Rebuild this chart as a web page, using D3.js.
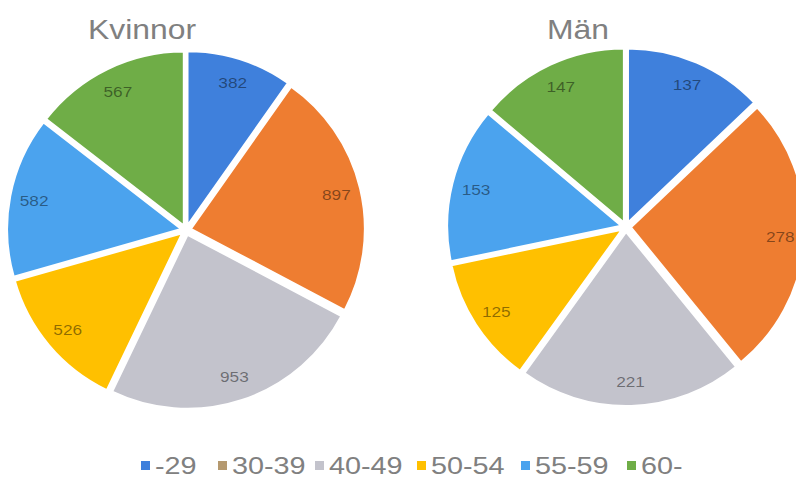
<!DOCTYPE html>
<html><head><meta charset="utf-8">
<script src="https://cdn.jsdelivr.net/npm/d3@7"></script>
<style>body{margin:0;background:#fff}svg{display:block}</style>
</head><body>
<svg id="c" width="796" height="484"></svg>
<script>
const categories = ["-29","30-39","40-49","50-54","55-59","60-"];
const kvinnor = [382, 897, 953, 526, 582, 567];
const man = [137, 278, 221, 125, 153, 147];
const titles = ["Kvinnor","Män"];
const sliceColors = ["#3f80dc","#ee7d31","#c3c3cc","#ffc000","#4ba3ee","#6fad47"];
const legendColors = ["#3f80dc","#b5996f","#c3c3cc","#ffc000","#4ba3ee","#6fad47"];

const svg = d3.select("#c");
const FONT = "Liberation Sans, Arial, sans-serif";
const pies = [
  {title: titles[0], values: kvinnor, cx: 186, cy: 230, tx: 142},
  {title: titles[1], values: man, cx: 626, cy: 227, tx: 578}
];
const R = 174, explode = 5;
const pie = d3.pie().sort(null).value(d => d);
const arc = d3.arc().innerRadius(0).outerRadius(R);
const color = d3.scaleOrdinal().domain(categories).range(sliceColors);

pies.forEach(p => {
  const g = svg.append("g").attr("transform", `translate(${p.cx},${p.cy})`);
  const arcs = pie(p.values);
  arcs.forEach((a, i) => {
    const mid = (a.startAngle + a.endAngle) / 2;
    const ox = Math.sin(mid) * explode, oy = -Math.cos(mid) * explode;
    const sg = g.append("g").attr("transform", `translate(${ox},${oy})`);
    sg.append("path").attr("d", arc(a)).attr("fill", color(categories[i]))
      .attr("stroke", "#fff").attr("stroke-width", 2);
    const lr = R * 0.86;
    sg.append("g").attr("transform", `translate(${Math.sin(mid) * lr},${-Math.cos(mid) * lr}) scale(1.15,1)`)
      .append("text")
      .attr("text-anchor", "middle").attr("dominant-baseline", "central")
      .attr("font-family", FONT).attr("font-size", 15)
      .attr("fill", "#000").attr("fill-opacity", 0.45)
      .text(p.values[i]);
  });
  svg.append("g").attr("transform", `translate(${p.tx},39) scale(1.18,1)`)
    .append("text").attr("text-anchor", "middle")
    .attr("font-family", FONT).attr("font-size", 27)
    .attr("fill", "#808080").text(p.title);
});

const legendX = [141, 218, 315, 417, 521, 627];
const lg = svg.append("g");
categories.forEach((c, i) => {
  lg.append("rect").attr("x", legendX[i]).attr("y", 461).attr("width", 9).attr("height", 9)
    .attr("fill", legendColors[i]);
  lg.append("g").attr("transform", `translate(${legendX[i] + 14},474) scale(1.2,1)`)
    .append("text")
    .attr("font-family", FONT).attr("font-size", 24)
    .attr("fill", "#808080").text(c);
});
</script>
</body></html>
